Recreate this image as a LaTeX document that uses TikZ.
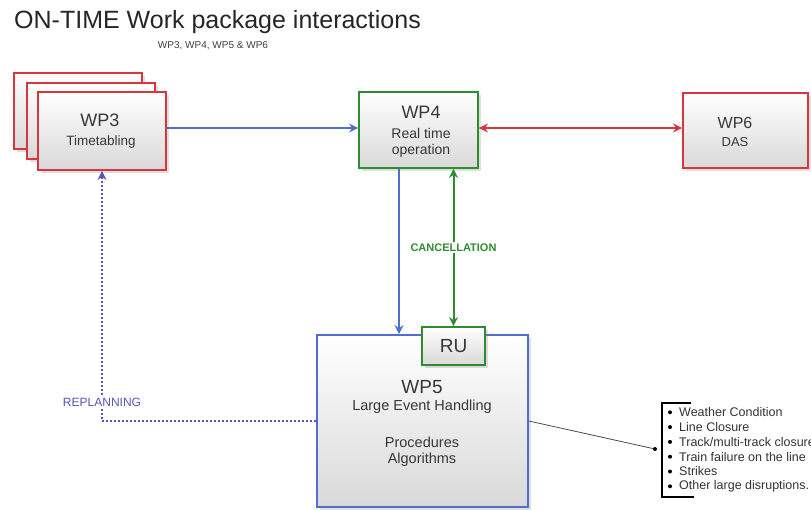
\documentclass[tikz,border=0pt]{standalone}
\usepackage{fontspec}
\setmainfont{Liberation Sans}
\usetikzlibrary{shadows,arrows.meta,calc}
\definecolor{wpred}{RGB}{215,55,60}
\definecolor{wpgreen}{RGB}{45,140,50}
\definecolor{wpblue}{RGB}{80,110,210}
\definecolor{wptext}{RGB}{55,55,55}
\definecolor{wpviolet}{RGB}{85,85,185}
\tikzset{
  wpbox/.style={rectangle, inner sep=0pt, line width=1.8pt, top color=white, bottom color=black!15,
    drop shadow={shadow xshift=2.5pt, shadow yshift=-2.5pt, opacity=0.25}},
  redbox/.style={wpbox, draw=wpred},
  greenbox/.style={wpbox, draw=wpgreen},
  bluebox/.style={wpbox, draw=wpblue},
  lbl/.style={text=wptext, inner sep=0pt},
  arr/.style={line width=2pt, -{Stealth[length=9pt,width=9pt,inset=3pt]}},
  darr/.style={line width=2pt, {Stealth[length=9pt,width=9pt,inset=3pt]}-{Stealth[length=9pt,width=9pt,inset=3pt]}},
}
\begin{document}
\begin{tikzpicture}[x=1pt,y=-1pt]
\useasboundingbox[fill=white] (0,0) rectangle (811,509);

% title
\node[anchor=west, inner sep=0pt, text=black!85, font=\fontsize{25}{28}\selectfont] (title) at (14,22) {ON-TIME Work package interactions};
\node[inner sep=0pt, text=black!75, font=\fontsize{10}{12}\selectfont] (sub) at (213,46) {WP3, WP4, WP5 \& WP6};

% WP3 stack
\node[redbox, minimum width=128pt, minimum height=76pt] (wp3c) at (78,111) {};
\node[redbox, minimum width=128pt, minimum height=76pt] (wp3b) at (91,121) {};
\node[redbox, minimum width=128pt, minimum height=78pt] (wp3) at (102,131) {};
\node[lbl, font=\fontsize{18}{20}\selectfont] (wp3t) at (100,120) {WP3};
\node[lbl, font=\fontsize{13.5}{15}\selectfont] (wp3s) at (101,142) {Timetabling};

% WP4
\node[greenbox, minimum width=119pt, minimum height=76pt] (wp4) at (418.5,130) {};
\node[lbl, font=\fontsize{18}{20}\selectfont] (wp4t) at (421,112) {WP4};
\node[lbl, font=\fontsize{14}{15}\selectfont] (wp4s) at (421,133) {Real time};
\node[lbl, font=\fontsize{14}{15}\selectfont] (wp4u) at (421,151) {operation};

% WP6
\node[redbox, minimum width=125pt, minimum height=75pt] (wp6) at (745.5,130.5) {};
\node[lbl, font=\fontsize{16}{18}\selectfont] (wp6t) at (735,123) {WP6};
\node[lbl, font=\fontsize{13}{15}\selectfont] (wp6s) at (735,142) {DAS};

% WP5
\node[bluebox, minimum width=211pt, minimum height=172pt] (wp5) at (422.5,421) {};
\node[lbl, font=\fontsize{19}{21}\selectfont] (wp5t) at (422,387) {WP5};
\node[lbl, font=\fontsize{14.5}{16}\selectfont] (wp5s) at (422,407) {Large Event Handling};
\node[lbl, font=\fontsize{14.5}{16}\selectfont] (wp5p) at (422,442) {Procedures};
\node[lbl, font=\fontsize{14.5}{16}\selectfont] (wp5a) at (422,460) {Algorithms};

% RU
\node[greenbox, minimum width=63pt, minimum height=38pt, font=\fontsize{19}{21}\selectfont, text=wptext] (ru) at (453.5,346) {RU};

% connectors
\draw[arr, wpblue] (wp3.east |- 0,128) -- (wp4.west |- 0,128);
\draw[darr, wpred] (wp4.east |- 0,128) -- (wp6.west |- 0,128);
\draw[arr, wpblue] ([xshift=-19.5pt]wp4.south) -- ([xshift=-19.5pt]wp4.south |- wp5.north);
\draw[darr, wpgreen] (ru.north |- wp4.south) -- node[fill=white, inner sep=1.5pt, font=\bfseries\fontsize{11}{12}\selectfont, text=wpgreen, pos=0.5] (canc) {CANCELLATION} (ru.north);
\draw[arr, wpviolet, line width=2pt, dotted] (wp5.west) -| node[pos=0.538, fill=white, inner sep=1.5pt, font=\fontsize{12}{13}\selectfont, text=wpviolet] (repl) {REPLANNING} (wp3.south);

% bullet list
\coordinate (lst) at (655,449);
\draw[black!70, line width=0.8pt] (wp5.east) -- (lst);
\fill[black] (lst) circle (2pt);
\draw[black, line width=2pt] (691,403) -- (662,403) -- (662,497) -- (694,497);
\foreach \t [count=\i] in {Weather Condition, Line Closure, Track/multi-track closure, Train failure on the line, Strikes, Other large disruptions.}{
  \fill[black] (670,{397.5+14.8*\i}) circle (2pt);
  \node[anchor=west, inner sep=0pt, text=black!80, font=\fontsize{12.5}{14}\selectfont] (b\i) at (679,{397.5+14.8*\i}) {\t};
}
\end{tikzpicture}
\end{document}
